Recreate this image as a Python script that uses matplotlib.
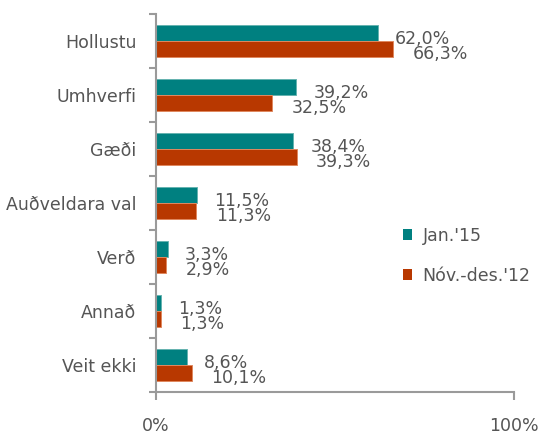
import matplotlib
matplotlib.use("Agg")
import matplotlib.pyplot as plt
from matplotlib.patches import Patch
import numpy as np

categories = ["Hollustu", "Umhverfi", "Gæði", "Auðveldara val", "Verð", "Annað", "Veit ekki"]
jan15 = [62.0, 39.2, 38.4, 11.5, 3.3, 1.3, 8.6]
nov12 = [66.3, 32.5, 39.3, 11.3, 2.9, 1.3, 10.1]
series_names = ["Jan.'15", "Nóv.-des.'12"]
colors = ["#008080", "#b83800"]
edge_colors = ["#66b3b0", "#e0885f"]
xtick_vals = [0, 100]
xtick_labels = ["0%", "100%"]

plt.rcParams['font.family'] = ['DejaVu Sans']
txt = "#555555"
spine_c = "#9a9a9a"
fs = 12.5

fig = plt.figure(figsize=(5.45, 4.33), dpi=100)
ax = fig.add_axes([0.286, 0.095, 0.657, 0.873])

y = np.arange(len(categories))
h = 0.296
ax.barh(y - h / 2, jan15, height=h, color=colors[0], edgecolor=edge_colors[0], linewidth=0.7, label=series_names[0])
ax.barh(y + h / 2, nov12, height=h, color=colors[1], edgecolor=edge_colors[1], linewidth=0.7, label=series_names[1])

def fmt(v):
    return f"{v:.1f}".replace(".", ",") + "%"

for yi, v in zip(y, jan15):
    ax.annotate(fmt(v), (v, yi - h / 2), xytext=(12.5, -4.5), textcoords="offset points",
                ha="left", va="center", fontsize=fs, color=txt)
for yi, v in zip(y, nov12):
    ax.annotate(fmt(v), (v, yi + h / 2), xytext=(14, -3.5), textcoords="offset points",
                ha="left", va="center", fontsize=fs, color=txt)

ax.set_xlim(0, 100)
ax.set_ylim(len(categories) - 0.5, -0.5)

ax.set_yticks(np.arange(-0.5, len(categories), 1.0))
ax.set_yticklabels([])
ax.set_yticks(y, minor=True)
ax.set_yticklabels(categories, minor=True)
ax.tick_params(axis="y", which="major", length=5, width=1.5, color=spine_c, direction="out")
ax.tick_params(axis="y", which="minor", length=0, pad=14, labelsize=fs, labelcolor=txt)

ax.set_xticks(xtick_vals)
ax.set_xticklabels(xtick_labels)
ax.tick_params(axis="x", length=6, width=1.5, color=spine_c, direction="out", pad=12,
               labelsize=fs, labelcolor=txt)

for s in ["top", "right"]:
    ax.spines[s].set_visible(False)
for s in ["left", "bottom"]:
    ax.spines[s].set_color(spine_c)
    ax.spines[s].set_linewidth(1.5)

handles = [Patch(facecolor=colors[0]), Patch(facecolor=colors[1])]
ax.legend(handles, series_names, loc="upper left", bbox_to_anchor=(0.67, 0.455),
          frameon=False, fontsize=fs, labelcolor=txt, handlelength=0.55, handleheight=0.55,
          handletextpad=0.6, labelspacing=1.25, borderaxespad=0)

fig.savefig("out.png", dpi=100)
